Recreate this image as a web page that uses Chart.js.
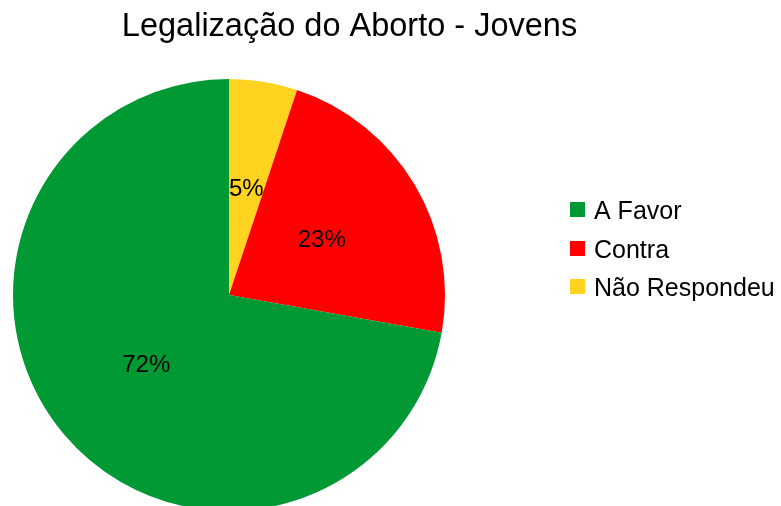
<!DOCTYPE html>
<html lang="pt">
<head>
<meta charset="utf-8">
<title>Legalização do Aborto - Jovens</title>
<script src="https://cdn.jsdelivr.net/npm/chart.js@4/dist/chart.umd.min.js"></script>
<style>
    html, body { margin: 0; padding: 0; background: #ffffff; }
    #chart { display: block; }
</style>
</head>
<body>
<canvas id="chart" width="781" height="506"></canvas>
<script>
// Données (ordre de la légende)
const titre = 'Legalização do Aborto - Jovens';
const categories = ['A Favor', 'Contra', 'Não Respondeu'];
const pourcentages = [72.2, 22.7, 5.1];
const couleurs = ['#009933', '#ff0000', '#ffd320'];

// Chart.js tourne dans le sens horaire : on inverse pour avoir jaune, rouge, vert depuis le haut
const ordre = [2, 1, 0];

const police = '"Liberation Sans", Arial, sans-serif';

// Titre, légende et étiquettes dessinés à la main pour coller à la mise en page
const decorations = {
    id: 'decorations',
    afterDatasetsDraw(chart) {
        const ctx = chart.ctx;
        ctx.save();

        // étiquettes des pourcentages au milieu de chaque part
        const meta = chart.getDatasetMeta(0);
        ctx.font = '24px ' + police;
        ctx.fillStyle = '#000000';
        ctx.textAlign = 'center';
        ctx.textBaseline = 'middle';
        meta.data.forEach(function(arc, i) {
            const pos = arc.tooltipPosition();
            ctx.fillText(Math.round(chart.data.datasets[0].data[i]) + '%', pos.x, pos.y + 1);
        });

        // titre
        ctx.font = '32.5px ' + police;
        ctx.textBaseline = 'alphabetic';
        ctx.fillText(titre, 349.5, 36);

        // légende
        ctx.textAlign = 'left';
        ctx.font = '25px ' + police;
        categories.forEach(function(nom, i) {
            const yc = 209.5 + i * 38.5;
            ctx.fillStyle = couleurs[i];
            ctx.fillRect(570, Math.round(yc - 7.5), 15, 15);
            ctx.fillStyle = '#000000';
            ctx.fillText(nom, 594, yc + 9.8);
        });

        ctx.restore();
    }
};

new Chart(document.getElementById('chart'), {
    type: 'pie',
    data: {
        labels: ordre.map(i => categories[i]),
        datasets: [{
            data: ordre.map(i => pourcentages[i]),
            backgroundColor: ordre.map(i => couleurs[i]),
            borderWidth: 0,
            radius: 216,
            clip: false
        }]
    },
    options: {
        responsive: false,
        animation: false,
        layout: {
            padding: { left: 29, right: 352, top: 95, bottom: 11 }
        },
        plugins: {
            legend: { display: false },
            title: { display: false },
            tooltip: { enabled: false }
        }
    },
    plugins: [decorations]
});
</script>
</body>
</html>
